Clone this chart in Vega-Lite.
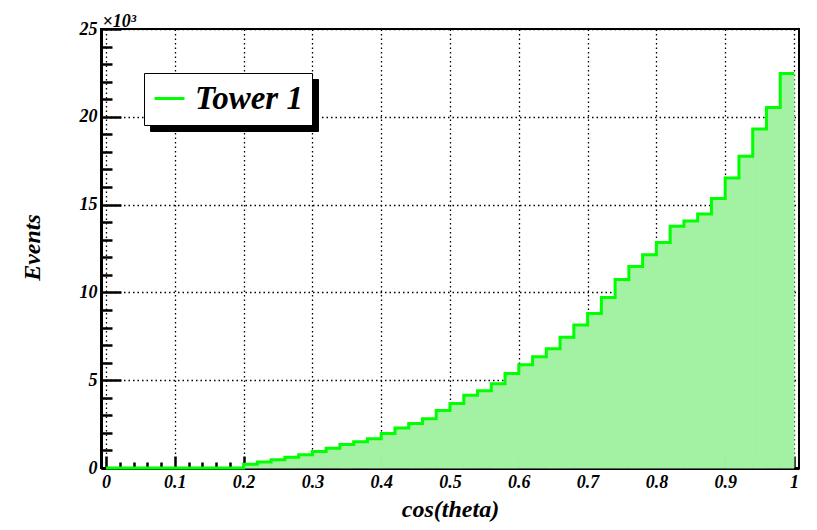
{
  "$schema": "https://vega.github.io/schema/vega-lite/v6.json",
  "width": 698,
  "height": 439,
  "autosize": {"type": "none"},
  "padding": {"left": 101, "top": 29, "right": 18, "bottom": 62},
  "background": "white",
  "config": {
    "view": {"stroke": "black", "strokeWidth": 2},
    "axis": {
      "labelFont": "Liberation Serif",
      "labelFontWeight": "bold",
      "labelFontStyle": "italic",
      "labelColor": "black",
      "labelFontSize": 18,
      "titleFont": "Liberation Serif",
      "titleFontWeight": "bold",
      "titleFontStyle": "italic",
      "titleColor": "black",
      "domainColor": "black",
      "tickColor": "black",
      "gridColor": "black",
      "gridDash": [1.5, 3],
      "gridWidth": 1.3,
      "gridOpacity": 1,
      "zindex": 1
    }
  },
  "data": {
    "values": [
      {"lo": 0.00, "hi": 0.02, "v": 0},
      {"lo": 0.02, "hi": 0.04, "v": 0},
      {"lo": 0.04, "hi": 0.06, "v": 0},
      {"lo": 0.06, "hi": 0.08, "v": 0},
      {"lo": 0.08, "hi": 0.10, "v": 0},
      {"lo": 0.10, "hi": 0.12, "v": 0},
      {"lo": 0.12, "hi": 0.14, "v": 0},
      {"lo": 0.14, "hi": 0.16, "v": 0},
      {"lo": 0.16, "hi": 0.18, "v": 0},
      {"lo": 0.18, "hi": 0.20, "v": 0},
      {"lo": 0.20, "hi": 0.22, "v": 220},
      {"lo": 0.22, "hi": 0.24, "v": 340},
      {"lo": 0.24, "hi": 0.26, "v": 470},
      {"lo": 0.26, "hi": 0.28, "v": 610},
      {"lo": 0.28, "hi": 0.30, "v": 760},
      {"lo": 0.30, "hi": 0.32, "v": 940},
      {"lo": 0.32, "hi": 0.34, "v": 1120},
      {"lo": 0.34, "hi": 0.36, "v": 1340},
      {"lo": 0.36, "hi": 0.38, "v": 1500},
      {"lo": 0.38, "hi": 0.40, "v": 1660},
      {"lo": 0.40, "hi": 0.42, "v": 1970},
      {"lo": 0.42, "hi": 0.44, "v": 2280},
      {"lo": 0.44, "hi": 0.46, "v": 2540},
      {"lo": 0.46, "hi": 0.48, "v": 2810},
      {"lo": 0.48, "hi": 0.50, "v": 3270},
      {"lo": 0.50, "hi": 0.52, "v": 3670},
      {"lo": 0.52, "hi": 0.54, "v": 4150},
      {"lo": 0.54, "hi": 0.56, "v": 4400},
      {"lo": 0.56, "hi": 0.58, "v": 4800},
      {"lo": 0.58, "hi": 0.60, "v": 5380},
      {"lo": 0.60, "hi": 0.62, "v": 5880},
      {"lo": 0.62, "hi": 0.64, "v": 6330},
      {"lo": 0.64, "hi": 0.66, "v": 6790},
      {"lo": 0.66, "hi": 0.68, "v": 7440},
      {"lo": 0.68, "hi": 0.70, "v": 8150},
      {"lo": 0.70, "hi": 0.72, "v": 8800},
      {"lo": 0.72, "hi": 0.74, "v": 9710},
      {"lo": 0.74, "hi": 0.76, "v": 10740},
      {"lo": 0.76, "hi": 0.78, "v": 11470},
      {"lo": 0.78, "hi": 0.80, "v": 12150},
      {"lo": 0.80, "hi": 0.82, "v": 12840},
      {"lo": 0.82, "hi": 0.84, "v": 13760},
      {"lo": 0.84, "hi": 0.86, "v": 14070},
      {"lo": 0.86, "hi": 0.88, "v": 14470},
      {"lo": 0.88, "hi": 0.90, "v": 15350},
      {"lo": 0.90, "hi": 0.92, "v": 16520},
      {"lo": 0.92, "hi": 0.94, "v": 17750},
      {"lo": 0.94, "hi": 0.96, "v": 19300},
      {"lo": 0.96, "hi": 0.98, "v": 20530},
      {"lo": 0.98, "hi": 1.00, "v": 22470}
    ]
  },
  "layer": [
    {
      "mark": {"type": "bar", "orient": "vertical", "fill": "#a3f2a3", "stroke": "#a3f2a3", "strokeWidth": 1, "opacity": 1},
      "encoding": {
        "x": {
          "field": "lo", "type": "quantitative",
          "scale": {"domain": [0, 1], "nice": false, "zero": false},
          "axis": {
            "orient": "bottom",
            "values": [0, 0.1, 0.2, 0.3, 0.4, 0.5, 0.6, 0.7, 0.8, 0.9, 1],
            "labelExpr": "datum.value == 0 ? '0' : datum.value == 1 ? '1' : format(datum.value, '.1f')",
            "grid": true,
            "tickSize": -12,
            "tickWidth": 2.5,
            "domainWidth": 3,
            "labelPadding": 17,
            "labelFlush": false,
            "labelBaseline": "top",
            "title": "cos(theta)",
            "titleFontSize": 24,
            "titleBaseline": "alphabetic",
            "titleY": 48,
            "titleX": 349,
            "titleAnchor": "middle"
          }
        },
        "x2": {"field": "hi"},
        "y": {
          "field": "v", "type": "quantitative",
          "scale": {"domain": [0, 25000], "nice": false},
          "axis": {
            "orient": "left",
            "values": [0, 5000, 10000, 15000, 20000, 25000],
            "labelExpr": "format(datum.value / 1000, 'd')",
            "grid": true,
            "tickSize": -20,
            "tickWidth": 2.5,
            "domainWidth": 3,
            "labelPadding": 24,
            "labelFlush": false,
            "title": "Events",
            "titleFontSize": 24,
            "titleAngle": -90,
            "titleAlign": "center",
            "titleBaseline": "alphabetic",
            "titleX": -62,
            "titleY": 218
          }
        },
        "strokeDash": {
          "datum": "shadow",
          "type": "nominal",
          "scale": {"range": [[1, 0]]},
          "legend": {
            "orient": "none",
            "legendX": 49,
            "legendY": 50,
            "zindex": 0,
            "title": null,
            "labelExpr": "'Tower 1'",
            "fillColor": "black",
            "strokeColor": "black",
            "padding": 9,
            "symbolType": "stroke",
            "symbolSize": 900,
            "symbolStrokeWidth": 3,
            "symbolStrokeColor": "black",
            "labelFont": "Liberation Serif",
            "labelFontWeight": "bold",
            "labelFontStyle": "italic",
            "labelFontSize": 33,
            "labelColor": "black",
            "labelOffset": 9
          }
        }
      }
    },
    {
      "transform": [{"fold": ["lo", "hi"], "as": ["edge", "xe"]}],
      "mark": {"type": "line", "strokeWidth": 3, "interpolate": "linear"},
      "encoding": {
        "x": {
          "field": "xe", "type": "quantitative",
          "axis": {
            "orient": "bottom",
            "values": [0.02, 0.04, 0.06, 0.08, 0.12, 0.14, 0.16, 0.18, 0.22, 0.24, 0.26, 0.28, 0.32, 0.34, 0.36, 0.38, 0.42, 0.44, 0.46, 0.48, 0.52, 0.54, 0.56, 0.58, 0.62, 0.64, 0.66, 0.68, 0.72, 0.74, 0.76, 0.78, 0.82, 0.84, 0.86, 0.88, 0.92, 0.94, 0.96, 0.98],
            "labels": false,
            "grid": false,
            "domain": false,
            "tickSize": -6,
            "tickWidth": 2.5,
            "title": null
          }
        },
        "y": {
          "field": "v", "type": "quantitative",
          "axis": {
            "orient": "left",
            "values": [1000, 2000, 3000, 4000, 6000, 7000, 8000, 9000, 11000, 12000, 13000, 14000, 16000, 17000, 18000, 19000, 21000, 22000, 23000, 24000],
            "labels": false,
            "grid": false,
            "domain": false,
            "tickSize": -11,
            "tickWidth": 2.5,
            "title": "×10³",
            "titleFontSize": 18,
            "titleAngle": 0,
            "titleAlign": "left",
            "titleBaseline": "alphabetic",
            "titleX": 1,
            "titleY": -3
          }
        },
        "order": [{"field": "xe", "type": "quantitative"}, {"field": "edge", "type": "nominal"}],
        "color": {
          "datum": "Tower 1",
          "type": "nominal",
          "scale": {"range": ["#00ff00"]},
          "legend": {
            "orient": "none",
            "legendX": 43,
            "legendY": 44,
            "zindex": 1,
            "title": null,
            "fillColor": "white",
            "strokeColor": "black",
            "padding": 9,
            "symbolType": "stroke",
            "symbolSize": 900,
            "symbolStrokeWidth": 3,
            "labelFont": "Liberation Serif",
            "labelFontWeight": "bold",
            "labelFontStyle": "italic",
            "labelFontSize": 33,
            "labelColor": "black",
            "labelOffset": 9
          }
        }
      }
    }
  ],
  "resolve": {"axis": {"x": "independent", "y": "independent"}}
}
